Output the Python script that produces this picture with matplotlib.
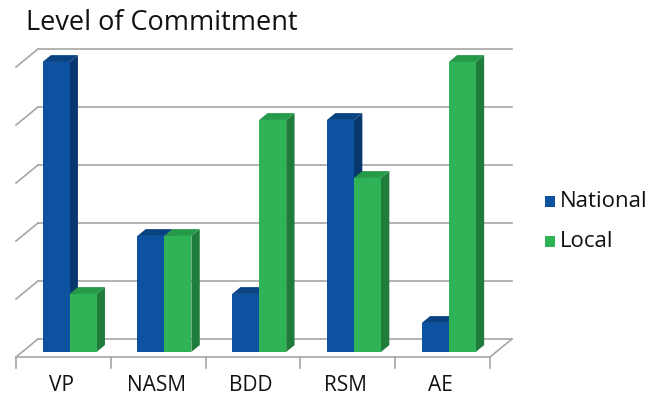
import matplotlib
matplotlib.use("Agg")
import matplotlib.pyplot as plt
from matplotlib.patches import Polygon, Rectangle

categories = ["VP", "NASM", "BDD", "RSM", "AE"]
national = [5, 2, 1, 4, 0.5]
local = [1, 2, 4, 3, 5]
series_names = ["National", "Local"]
levels = [0, 1, 2, 3, 4, 5]

# face colours: front, side, top
blue = ("#0C52A0", "#08386E", "#0A4382")
green = ("#2EB457", "#1F7C3B", "#259A48")

# oblique depth step (data units) for a full depth of the box
DX, DY = 0.232, 0.31
BAR_D0, BAR_D1 = 0.28, 0.66
BAR_W = 0.285
GRID = "#A6A6A6"
INK = "#111111"

fig = plt.figure(figsize=(6.56, 4.05), dpi=100)
ax = fig.add_axes([0, 0, 1, 1])
ax.set_xlim(-0.669, 6.251)
ax.set_ylim(-0.828, 6.155)
ax.axis("off")

n = len(categories)
x0, x1 = -0.5, n - 0.5

# back wall gridlines and left wall slants
for v in levels:
    ax.plot([x0 + DX, x1 + DX], [v + DY, v + DY], color=GRID, lw=1.2, zorder=1)
    ax.plot([x0, x0 + DX], [v, v + DY], color=GRID, lw=1.2, zorder=1)

# floor right edge and front axis with ticks
ax.plot([x1, x1 + DX], [0, DY], color=GRID, lw=1.2, zorder=1)
ax.plot([x0, x1], [0, 0], color=GRID, lw=1.2, zorder=1)
for k in range(n + 1):
    ax.plot([x0 + k, x0 + k], [0, -0.19], color=GRID, lw=1.2, zorder=1)


def bar3d(left, height, cols, z):
    ox0, oy0 = DX * BAR_D0, DY * BAR_D0
    ox1, oy1 = DX * BAR_D1, DY * BAR_D1
    l, r = left + ox0, left + BAR_W + ox0
    b, t = oy0, height + oy0
    dx, dy = ox1 - ox0, oy1 - oy0
    ax.add_patch(Polygon([(r, b), (r + dx, b + dy), (r + dx, t + dy), (r, t)],
                         closed=True, fc=cols[1], ec="none", zorder=z))
    ax.add_patch(Polygon([(l, t), (r, t), (r + dx, t + dy), (l + dx, t + dy)],
                         closed=True, fc=cols[2], ec="none", zorder=z))
    ax.add_patch(Rectangle((l, b), BAR_W, height, fc=cols[0], ec="none", zorder=z))


for i in range(n):
    bar3d(i - BAR_W, national[i], blue, 3 + 2 * i)
    bar3d(i, local[i], green, 4 + 2 * i)
    ax.text(i - 0.02, -0.5, categories[i], ha="center", va="center",
            fontsize=15, color=INK, family="Open Sans")

ax.text(-0.39, 5.76, "Level of Commitment", ha="left", va="center",
        fontsize=19.5, color=INK, family="Open Sans")

# legend
for k, (name, cols) in enumerate(zip(series_names, [blue, green])):
    yy = 2.68 - k * 0.69
    ax.add_patch(Rectangle((5.08, yy - 0.09), 0.11, 0.18, fc=cols[0], ec="none"))
    ax.text(5.24, yy, name, ha="left", va="center", fontsize=16,
            color=INK, family="Open Sans")

fig.savefig("out.png", dpi=100, facecolor="white")
